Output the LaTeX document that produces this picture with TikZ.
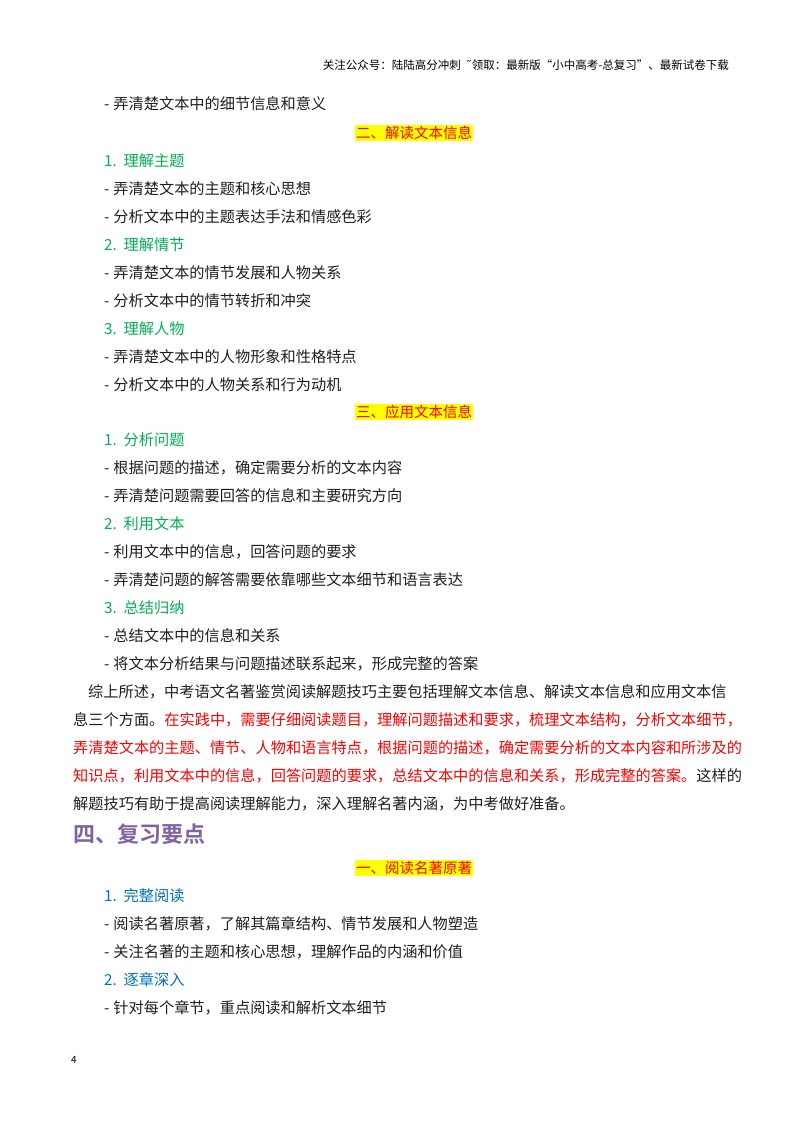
\documentclass[tikz,border=0pt]{standalone}
\usepackage{fontspec}
\setmainfont{Noto Sans CJK SC}
\newfontfamily\cjkb[BoldFont=*]{Noto Sans CJK SC Bold}
\newfontfamily\dvs{DejaVu Sans}
\definecolor{gr}{RGB}{0,176,80}
\definecolor{bl}{RGB}{0,112,192}
\definecolor{pu}{RGB}{128,100,162}
\definecolor{rd}{RGB}{255,0,0}
\definecolor{hl}{RGB}{255,255,0}
\definecolor{tx}{RGB}{30,30,30}
\newcommand{\dsh}{-\hspace{4pt}}
\begin{document}
\begin{tikzpicture}[x=1pt,y=-1pt,
  body/.style={anchor=west,inner sep=0,font=\fontsize{15.2}{17}\selectfont,text=tx},
  grn/.style={body,text=gr},
  blu/.style={body,text=bl},
  hd/.style={inner sep=1pt,fill=hl,text=rd,font=\fontsize{14.5}{16}\selectfont}]
\useasboundingbox (0,0) rectangle (800,1132);
\node[anchor=east,inner sep=0,font=\fontsize{11.5}{13}\selectfont] (h) at (729,65) {关注公众号：陆陆高分冲刺 \ {\dvs ˜}领取：最新版“小中高考-总复习”、最新试卷下载};
\node[body] (a1) at (104,104) {\dsh 弄清楚文本中的细节信息和意义};
\node[hd] (s2) at (414,133) {二、解读文本信息};
\node[grn] (a2) at (104,161) {1.\ \ 理解主题};
\node[body] (a3) at (104,189) {\dsh 弄清楚文本的主题和核心思想};
\node[body] (a4) at (104,217) {\dsh 分析文本中的主题表达手法和情感色彩};
\node[grn] (a5) at (104,245) {2.\ \ 理解情节};
\node[body] (a6) at (104,273) {\dsh 弄清楚文本的情节发展和人物关系};
\node[body] (a7) at (104,301) {\dsh 分析文本中的情节转折和冲突};
\node[grn] (a8) at (104,329) {3.\ \ 理解人物};
\node[body] (a9) at (104,357) {\dsh 弄清楚文本中的人物形象和性格特点};
\node[body] (a10) at (104,385) {\dsh 分析文本中的人物关系和行为动机};
\node[hd] (s3) at (414,412) {三、应用文本信息};
\node[grn] (b1) at (104,440) {1.\ \ 分析问题};
\node[body] (b2) at (104,468) {\dsh 根据问题的描述，确定需要分析的文本内容};
\node[body] (b3) at (104,496) {\dsh 弄清楚问题需要回答的信息和主要研究方向};
\node[grn] (b4) at (104,524) {2.\ \ 利用文本};
\node[body] (b5) at (104,552) {\dsh 利用文本中的信息，回答问题的要求};
\node[body] (b6) at (104,580) {\dsh 弄清楚问题的解答需要依靠哪些文本细节和语言表达};
\node[grn] (b7) at (104,608) {3.\ \ 总结归纳};
\node[body] (b8) at (104,636) {\dsh 总结文本中的信息和关系};
\node[body] (b9) at (104,664) {\dsh 将文本分析结果与问题描述联系起来，形成完整的答案};
\node[body] (p1) at (88,692) {综上所述，中考语文名著鉴赏阅读解题技巧主要包括理解文本信息、解读文本信息和应用文本信};
\node[body] (p2) at (73,720) {息三个方面。\textcolor{rd}{在实践中，需要仔细阅读题目，理解问题描述和要求，梳理文本结构，分析文本细节，}};
\node[body,text=rd] (p3) at (73,748) {弄清楚文本的主题、情节、人物和语言特点，根据问题的描述，确定需要分析的文本内容和所涉及的};
\node[body] (p4) at (73,776) {\textcolor{rd}{知识点，利用文本中的信息，回答问题的要求，总结文本中的信息和关系，形成完整的答案。}这样的};
\node[body] (p5) at (73,804) {解题技巧有助于提高阅读理解能力，深入理解名著内涵，为中考做好准备。};
\node[anchor=west,inner sep=0,text=pu,font=\cjkb\fontsize{22}{24}\selectfont] (t4) at (73,834) {四、复习要点};
\node[hd] (s1) at (414,868) {一、阅读名著原著};
\node[blu] (c1) at (104,896) {1.\ \ 完整阅读};
\node[body] (c2) at (104,924) {\dsh 阅读名著原著，了解其篇章结构、情节发展和人物塑造};
\node[body] (c3) at (104,952) {\dsh 关注名著的主题和核心思想，理解作品的内涵和价值};
\node[blu] (c4) at (104,980) {2.\ \ 逐章深入};
\node[body] (c5) at (104,1008) {\dsh 针对每个章节，重点阅读和解析文本细节};
\node[anchor=west,inner sep=0,font=\fontsize{10}{12}\selectfont] (pg) at (71,1060) {4};
\end{tikzpicture}
\end{document}
